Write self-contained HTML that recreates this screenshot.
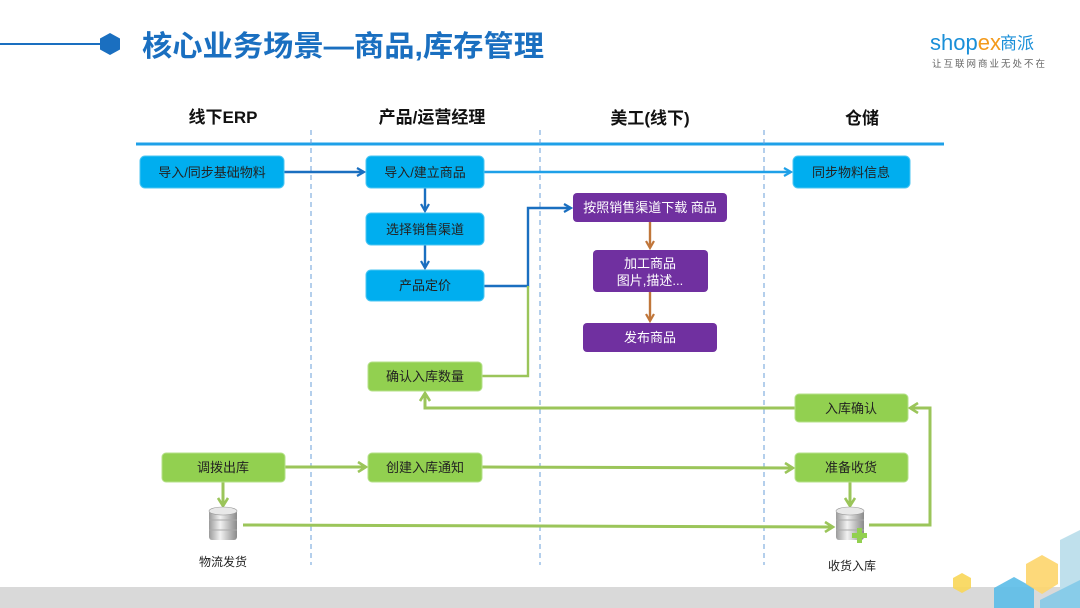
<!DOCTYPE html>
<html><head><meta charset="utf-8"><style>
html,body{margin:0;padding:0;background:#fff;}
svg{display:block;font-family:"Liberation Sans","Noto Sans CJK SC",sans-serif;}
</style></head><body>
<svg width="1080" height="608" viewBox="0 0 1080 608" xmlns="http://www.w3.org/2000/svg">
<defs>
<marker id="ab" markerWidth="10" markerHeight="10" refX="8" refY="5" orient="auto" markerUnits="userSpaceOnUse"><path d="M1,1 L8,5 L1,9" fill="none" stroke="#1a6fc0" stroke-width="2.2"/></marker>
<marker id="ac" markerWidth="10" markerHeight="10" refX="8" refY="5" orient="auto" markerUnits="userSpaceOnUse"><path d="M1,1 L8,5 L1,9" fill="none" stroke="#1ea0e8" stroke-width="2.2"/></marker>
<marker id="ag" markerWidth="12" markerHeight="12" refX="9" refY="6" orient="auto" markerUnits="userSpaceOnUse"><path d="M1,1 L9,6 L1,11" fill="none" stroke="#9bc55a" stroke-width="2.6"/></marker>
<marker id="ao" markerWidth="10" markerHeight="10" refX="8" refY="5" orient="auto" markerUnits="userSpaceOnUse"><path d="M1,1 L8,5 L1,9" fill="none" stroke="#c0763a" stroke-width="2.2"/></marker>
<linearGradient id="db" x1="0" x2="1"><stop offset="0" stop-color="#9a9a9a"/><stop offset="0.4" stop-color="#f2f2f2"/><stop offset="1" stop-color="#8a8a8a"/></linearGradient>
</defs>
<rect x="0" y="587" width="1080" height="21" fill="#d9d9d9"/>
<polygon points="962,573 971,578 971,588 962,593 953,588 953,578" fill="#f8d658" opacity="0.9"/>
<polygon points="1060,540 1080,530 1080,608 1060,608" fill="#bfe0ec"/>
<polygon points="1014,577 1034,588 1034,608 994,608 994,588" fill="#5bbde8" opacity="0.9"/>
<polygon points="1042,555 1058,564 1058,584 1042,594 1026,584 1026,564" fill="#fdd56b" opacity="0.9"/>
<polygon points="1040,600 1080,580 1080,608 1040,608" fill="#7ac7e8" opacity="0.8"/>
<line x1="0" y1="44" x2="100" y2="44" stroke="#1a6fc0" stroke-width="2"/>
<polygon points="110,33 120,38.5 120,49.5 110,55 100,49.5 100,38.5" fill="#1a6fc0"/>
<text x="142" y="56" font-size="29" font-weight="bold" fill="#1a6fc0" textLength="402" lengthAdjust="spacingAndGlyphs">核心业务场景—商品,库存管理</text>
<text x="930" y="50" font-size="22" fill="#1a8fd8" font-family="Liberation Sans,sans-serif">shop<tspan fill="#f39a1c">ex</tspan></text>
<text x="1000" y="49" font-size="17" fill="#1a8fd8">商派</text>
<text x="932" y="67" font-size="9.5" fill="#666" letter-spacing="2">让互联网商业无处不在</text>
<g font-size="17" font-weight="bold" fill="#111" text-anchor="middle">
<text x="223" y="123">线下ERP</text><text x="432" y="123">产品/运营经理</text><text x="650" y="124">美工(线下)</text><text x="862" y="124">仓储</text>
</g>
<line x1="136" y1="144" x2="944" y2="144" stroke="#1ea0e8" stroke-width="3"/>
<g stroke="#6a9fd8" stroke-width="1" stroke-dasharray="5,4">
<line x1="311" y1="130" x2="311" y2="565"/><line x1="540" y1="130" x2="540" y2="565"/><line x1="764" y1="130" x2="764" y2="565"/>
</g>
<g fill="none" stroke-width="2.4">
<line x1="284" y1="172" x2="364" y2="172" stroke="#1a6fc0" marker-end="url(#ab)"/>
<line x1="484" y1="172" x2="791" y2="172" stroke="#1ea0e8" marker-end="url(#ac)"/>
<line x1="425" y1="188" x2="425" y2="211" stroke="#1a6fc0" marker-end="url(#ab)"/>
<line x1="425" y1="245" x2="425" y2="268" stroke="#1a6fc0" marker-end="url(#ab)"/>
<polyline points="484,286 528,286 528,208 571,208" stroke="#1a6fc0" marker-end="url(#ab)"/>
<polyline points="482,376 528,376 528,286" stroke="#9bc55a"/>
<line x1="650" y1="222" x2="650" y2="248" stroke="#c0763a" marker-end="url(#ao)"/>
<line x1="650" y1="292" x2="650" y2="321" stroke="#c0763a" marker-end="url(#ao)"/>
<polyline points="795,408 425,408 425,393" stroke="#9bc55a" stroke-width="3" marker-end="url(#ag)"/>
<line x1="285" y1="467" x2="366" y2="467" stroke="#9bc55a" stroke-width="3" marker-end="url(#ag)"/>
<line x1="482" y1="467" x2="793" y2="468" stroke="#9bc55a" stroke-width="3" marker-end="url(#ag)"/>
<line x1="223" y1="482" x2="223" y2="506" stroke="#9bc55a" stroke-width="3" marker-end="url(#ag)"/>
<line x1="850" y1="482" x2="850" y2="506" stroke="#9bc55a" stroke-width="3" marker-end="url(#ag)"/>
<line x1="243" y1="525" x2="833" y2="527" stroke="#9bc55a" stroke-width="3" marker-end="url(#ag)"/>
<polyline points="869,525 930,525 930,408 910,408" stroke="#9bc55a" stroke-width="3" marker-end="url(#ag)"/>
</g>
<g font-size="13" text-anchor="middle">
<g fill="#00aeef" stroke="#4cc6f2" stroke-width="1">
<rect x="140" y="156" width="144" height="32" rx="5"/><rect x="366" y="156" width="118" height="32" rx="5"/>
<rect x="366" y="213" width="118" height="32" rx="5"/><rect x="366" y="270" width="118" height="31" rx="5"/>
<rect x="793" y="156" width="117" height="32" rx="5"/>
</g>
<g fill="#222"><text x="212" y="177">导入/同步基础物料</text><text x="425" y="177">导入/建立商品</text><text x="425" y="234">选择销售渠道</text><text x="425" y="290">产品定价</text><text x="851" y="177">同步物料信息</text></g>
<g fill="#7030a0"><rect x="573" y="193" width="154" height="29" rx="4"/><rect x="593" y="250" width="115" height="42" rx="4"/><rect x="583" y="323" width="134" height="29" rx="4"/></g>
<g fill="#fff"><text x="650" y="212">按照销售渠道下载 商品</text><text x="650" y="268">加工商品</text><text x="650" y="285">图片,描述...</text><text x="650" y="342">发布商品</text></g>
<g fill="#92d050" stroke="#b5e08a" stroke-width="1">
<rect x="368" y="362" width="114" height="29" rx="4"/><rect x="795" y="394" width="113" height="28" rx="4"/>
<rect x="162" y="453" width="123" height="29" rx="4"/><rect x="368" y="453" width="114" height="29" rx="4"/><rect x="795" y="453" width="113" height="29" rx="4"/>
</g>
<g fill="#222"><text x="425" y="381">确认入库数量</text><text x="851" y="413">入库确认</text><text x="223" y="472">调拨出库</text><text x="425" y="472">创建入库通知</text><text x="851" y="472">准备收货</text></g>
</g>
<g>
<rect x="209" y="510" width="28" height="30" rx="3" fill="url(#db)"/>
<ellipse cx="223" cy="511" rx="14" ry="4" fill="#e8e8e8" stroke="#999" stroke-width="0.6"/>
<line x1="209" y1="520" x2="237" y2="520" stroke="#aaa"/><line x1="209" y1="530" x2="237" y2="530" stroke="#aaa"/>
<rect x="836" y="510" width="28" height="30" rx="3" fill="url(#db)"/>
<ellipse cx="850" cy="511" rx="14" ry="4" fill="#e8e8e8" stroke="#999" stroke-width="0.6"/>
<line x1="836" y1="520" x2="864" y2="520" stroke="#aaa"/><line x1="836" y1="530" x2="864" y2="530" stroke="#aaa"/>
<path d="M857,528 h5 v5 h5 v5 h-5 v5 h-5 v-5 h-5 v-5 h5 z" fill="#92d050"/>
</g>
<g font-size="12" fill="#222" text-anchor="middle"><text x="223" y="566">物流发货</text><text x="852" y="570">收货入库</text></g>
</svg>
</body></html>
